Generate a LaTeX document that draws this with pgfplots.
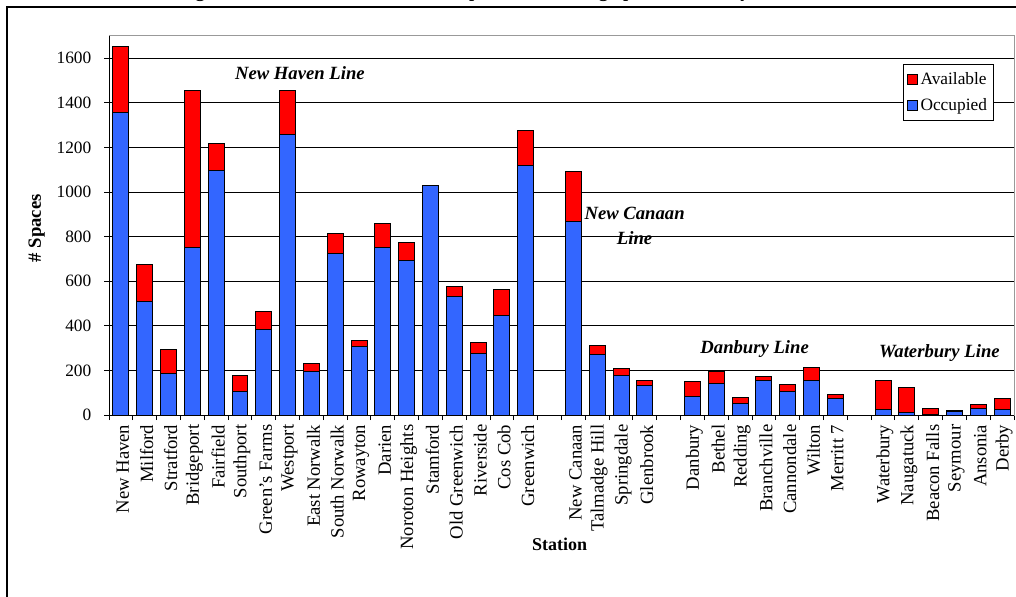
\documentclass[border=0pt]{standalone}
\usepackage{fontspec}
\setmainfont{Liberation Serif}
\usepackage{pgfplots}
\usepackage{pgfplotstable}
\pgfplotsset{compat=1.18}
\definecolor{avail}{RGB}{255,0,0}
\definecolor{occ}{RGB}{51,102,255}
\pgfplotstableread{
x occ avail
0 1355 300
1 511 165
2 187 108
3 751 704
4 1098 118
5 106 70
6 384 80
7 1258 197
8 197 33
9 724 92
10 308 24
11 751 109
12 694 79
13 1030 0
14 532 44
15 277 47
16 447 118
17 1118 157
19 869 224
20 272 38
21 179 29
22 132 22
24 82 68
25 142 55
26 51 28
27 153 18
28 105 34
29 154 60
30 75 16
32 25 131
33 12 112
34 4 23
35 15 7
36 30 19
37 25 50
}\stations
\begin{document}
\begin{tikzpicture}
\useasboundingbox (0pt,0pt) rectangle (762pt,447pt);
\clip (0pt,0pt) rectangle (762pt,447pt);
\draw[line width=0.9pt] (5.25pt,-10pt) -- (5.25pt,441.75pt) -- (780pt,441.75pt);
\node[anchor=base west, font=\fontsize{14}{16}\selectfont\bfseries, inner sep=0pt] at (134pt,449pt) {Figure 3: Metro-North Station Occupied and Existing Spaces, Weekday};
\begin{axis}[
  at={(81.75pt,135.75pt)}, anchor=south west,
  scale only axis, width=678.75pt, height=284.25pt,
  ybar stacked, bar width=0.67,
  xmin=-0.5, xmax=37.5, ymin=0, ymax=1700,
  ytick={0,200,...,1600},
  ymajorgrids, grid style={black, line width=0.75pt},
  axis line style={black!40, line width=0.75pt},
  tick align=outside, tick pos=left,
  major tick length=3.75pt, minor tick length=3.75pt,
  tick style={black, line width=0.75pt},
  xtick={0,1,2,3,4,5,6,7,8,9,10,11,12,13,14,15,16,17,19,20,21,22,24,25,26,27,28,29,30,32,33,34,35,36,37},
  xticklabels={New Haven,Milford,Stratford,Bridgeport,Fairfield,Southport,Green's Farms,Westport,East Norwalk,South Norwalk,Rowayton,Darien,Noroton Heights,Stamford,Old Greenwich,Riverside,Cos Cob,Greenwich,New Canaan,Talmadge Hill,Springdale,Glenbrook,Danbury,Bethel,Redding,Branchville,Cannondale,Wilton,Merritt 7,Waterbury,Naugatuck,Beacon Falls,Seymour,Ansonia,Derby},
  minor xtick={-0.5,0.5,...,37.5},
  major x tick style={draw=none},
  xticklabel style={rotate=90, anchor=east, font=\fontsize{14}{16}\selectfont, yshift=-1.5pt},
  yticklabel style={font=\fontsize{13}{15}\selectfont, xshift=-6pt},
  /pgf/number format/assume math mode=true,
  /pgf/number format/1000 sep={},
  xlabel={Station}, ylabel={\# Spaces},
  xlabel style={at={(axis description cs:0.498,-0.340)}, anchor=center, font=\fontsize{13.5}{16}\selectfont\bfseries},
  ylabel style={at={(axis description cs:-0.0800,0.493)}, anchor=center, font=\fontsize{14}{16}\selectfont\bfseries},
  legend style={at={(rel axis cs:0.978,0.926)}, anchor=north east, font=\fontsize{13}{15}\selectfont, draw=black, line width=0.75pt, fill=white, inner xsep=3pt, inner ysep=4pt, row sep=5pt, cells={anchor=west}},
  legend image code/.code={\draw[#1,/tikz/.cd,draw=black,line width=0.6pt] (0pt,-3.75pt) rectangle (7.5pt,3.75pt);},
  reverse legend,
]
\addplot[fill=occ, draw=black, line width=0.75pt] table[x=x,y=occ]{\stations};
\addlegendentry{Occupied}
\addplot[fill=avail, draw=black, line width=0.75pt] table[x=x,y=avail]{\stations};
\addlegendentry{Available}
\draw[black, line width=0.75pt] (rel axis cs:0,1) -- (rel axis cs:0,0) -- (rel axis cs:1,0);
\node[font=\fontsize{14}{17}\selectfont\bfseries\itshape] at (axis cs:7.515,1534) {New Haven Line};
\node[align=center, font=\fontsize{14}{18.75}\selectfont\bfseries\itshape] at (axis cs:21.57,846) {New Canaan\\Line};
\node[font=\fontsize{14}{17}\selectfont\bfseries\itshape] at (axis cs:26.61,296) {Danbury Line};
\node[font=\fontsize{14}{17}\selectfont\bfseries\itshape] at (axis cs:34.37,278) {Waterbury Line};
\end{axis}
\end{tikzpicture}
\end{document}
